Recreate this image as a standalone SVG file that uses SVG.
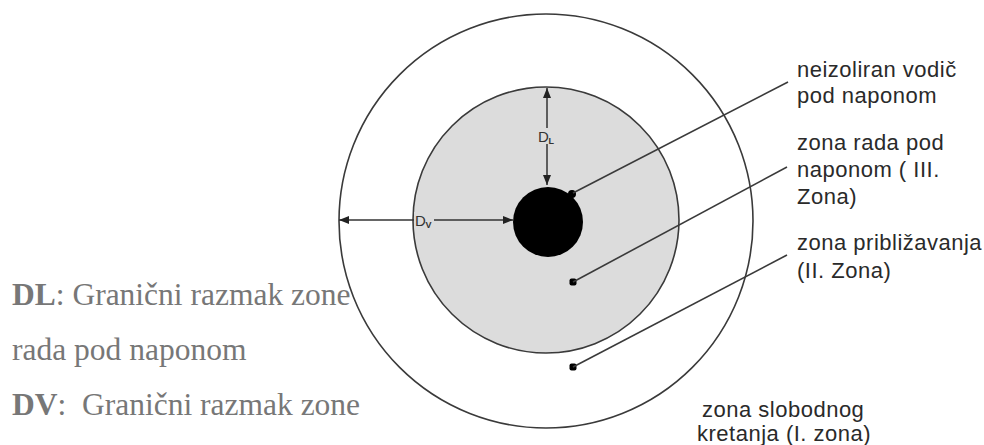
<svg xmlns="http://www.w3.org/2000/svg" width="984" height="445" viewBox="0 0 984 445">
<style>
.ring{stroke:#3a3a3a;stroke-width:1.6}
.lead{stroke:#3a3a3a;stroke-width:1.6;fill:none}
.dim{stroke:#333;stroke-width:1.5;fill:none}
.lbl{font-family:"Liberation Sans",Arial,sans-serif;font-size:22px;letter-spacing:0.5px;fill:#2a2a2a}
.dl{font-family:"Liberation Sans",Arial,sans-serif;font-size:15px;fill:#333}
.sub{font-family:"Liberation Sans",Arial,sans-serif;font-size:9px;font-weight:bold;fill:#333}
.side{font-family:"Liberation Serif","Times New Roman",serif;font-size:31.5px;fill:#777}
</style>
<defs>
<marker id="arr" viewBox="0 0 10 8" refX="10" refY="4" markerWidth="10" markerHeight="8" orient="auto-start-reverse" markerUnits="userSpaceOnUse">
<path d="M0,0 L10,4 L0,8 z" fill="#222"/>
</marker>
</defs>
<rect width="984" height="445" fill="#fff"/>
<g id="zone-slobodnog">
<circle class="ring" cx="546" cy="221" r="207" fill="#fff"/>
</g>
<g id="zone-priblizavanja">
<circle class="ring" cx="546" cy="220" r="133" fill="#dcdcdc"/>
</g>
<g id="vodic">
<circle cx="548" cy="222" r="35" fill="#000"/>
<circle cx="572" cy="194" r="4" fill="#000"/>
</g>
<g id="dots">
<rect x="569.5" y="278.5" width="7" height="7" rx="2" fill="#000"/>
<rect x="569.5" y="363.5" width="7" height="7" rx="2" fill="#000"/>
</g>
<g id="connectors">
<line class="dim" x1="547" y1="88" x2="547" y2="185" marker-start="url(#arr)" marker-end="url(#arr)"/>
<line class="dim" x1="339" y1="220" x2="513" y2="220" marker-start="url(#arr)" marker-end="url(#arr)"/>
<line class="lead" x1="573" y1="193" x2="788" y2="82"/>
<line class="lead" x1="573" y1="282" x2="787" y2="167"/>
<line class="lead" x1="573" y1="367" x2="787" y2="255"/>
</g>
<g id="dim-labels">
<rect x="537" y="128" width="19" height="16" fill="#dcdcdc"/>
<text class="dl" x="538" y="142">D</text><text class="sub" x="548.5" y="144">L</text>
<rect x="414" y="212" width="20" height="16" fill="#dcdcdc"/>
<text class="dl" x="415" y="226">D</text><text class="sub" x="425.5" y="228">V</text>
</g>
<g id="label-vodic">
<text class="lbl" x="797" y="77">neizoliran vodič</text>
<text class="lbl" x="797" y="103">pod naponom</text>
</g>
<g id="label-zona-iii">
<text class="lbl" x="797" y="150">zona rada pod</text>
<text class="lbl" x="797" y="177">naponom ( III.</text>
<text class="lbl" x="797" y="204">Zona)</text>
</g>
<g id="label-zona-ii">
<text class="lbl" x="797" y="250">zona približavanja</text>
<text class="lbl" x="797" y="278">(II. Zona)</text>
</g>
<g id="label-zona-i">
<text class="lbl" x="702" y="417">zona slobodnog</text>
<text class="lbl" x="697" y="441">kretanja (I. zona)</text>
</g>
<g id="legend">
<text class="side" x="12" y="305"><tspan font-weight="bold">DL</tspan>: Granični razmak zone</text>
<text class="side" x="12" y="360">rada pod naponom</text>
<text class="side" x="12" y="415" xml:space="preserve"><tspan font-weight="bold">DV</tspan>:  Granični razmak zone</text>
</g>
</svg>
